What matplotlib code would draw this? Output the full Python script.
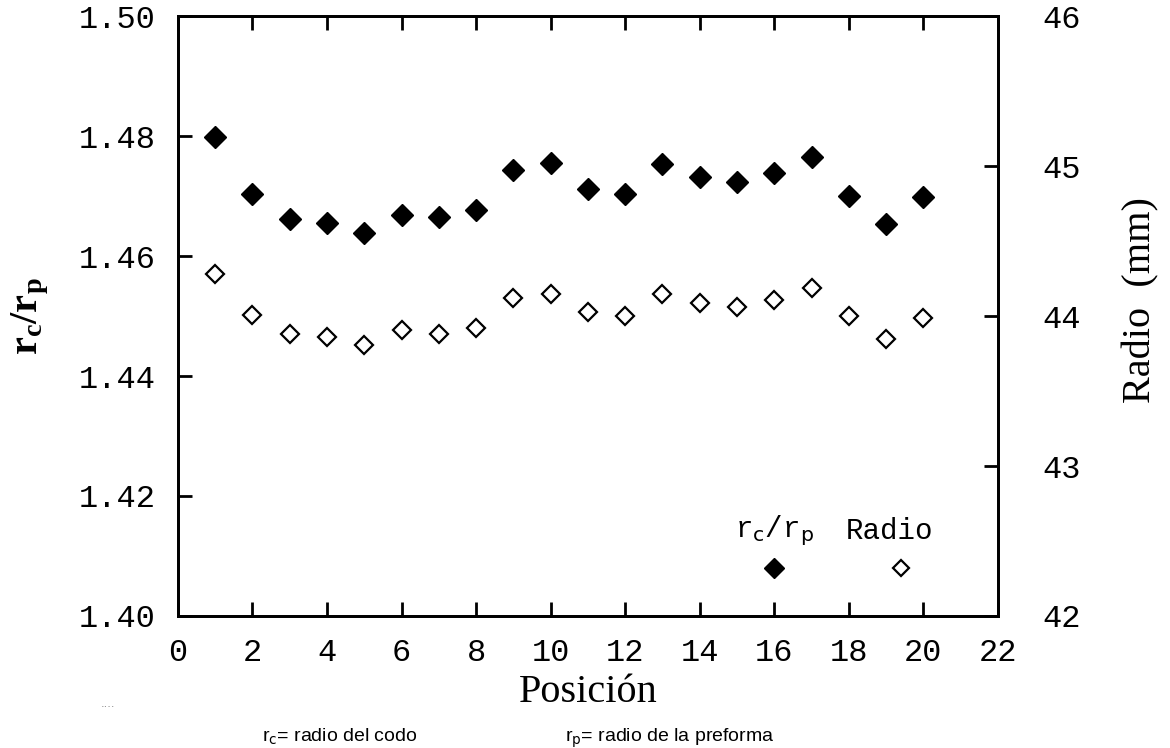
import matplotlib.pyplot as plt

plt.rcParams['mathtext.fontset'] = 'custom'
plt.rcParams['mathtext.rm'] = 'Liberation Serif'
plt.rcParams['mathtext.bf'] = 'Liberation Serif:bold'

# datos
posicion = [1, 2, 3, 4, 5, 6, 7, 8, 9, 10, 11, 12, 13, 14, 15, 16, 17, 18, 19, 20]
rc_rp = [1.4798, 1.4703, 1.4662, 1.4655, 1.4639, 1.4669, 1.4665, 1.4676, 1.4744, 1.4755,
         1.4711, 1.4704, 1.4754, 1.4732, 1.4723, 1.4738, 1.4765, 1.4700, 1.4654, 1.4698]
radio = [44.28, 44.01, 43.88, 43.86, 43.81, 43.91, 43.88, 43.92, 44.12, 44.15,
         44.03, 44.00, 44.15, 44.09, 44.06, 44.11, 44.19, 44.00, 43.85, 43.99]

x_ticks = [0, 2, 4, 6, 8, 10, 12, 14, 16, 18, 20, 22]
y_ticks = [1.40, 1.42, 1.44, 1.46, 1.48, 1.50]
y2_ticks = [42, 43, 44, 45, 46]

mono = 'Liberation Mono'
serif = 'Liberation Serif'

fig = plt.figure(figsize=(11.7, 7.48), dpi=100)
ax = fig.add_axes([0.152, 0.1765, 0.701, 0.802])
ax2 = ax.twinx()

ax.plot(posicion, rc_rp, linestyle='none', marker='D', markersize=11,
        color='black')
ax2.plot(posicion, radio, linestyle='none', marker='D', markersize=9,
         markerfacecolor='white', markeredgecolor='black', markeredgewidth=1.6)

ax.set_xlim(0, 22)
ax.set_ylim(1.40, 1.50)
ax2.set_ylim(42, 46)

ax.set_xticks(x_ticks)
ax.set_xticklabels([str(t) for t in x_ticks], family=mono, fontsize=23)
ax.set_yticks(y_ticks)
ax.set_yticklabels(['%.2f' % t for t in y_ticks], family=mono, fontsize=23)
ax2.set_yticks(y2_ticks)
ax2.set_yticklabels([str(t) for t in y2_ticks], family=mono, fontsize=23)

ax.tick_params(axis='x', direction='in', length=10, width=2, pad=16,
               top=True, labeltop=False)
ax.tick_params(axis='y', direction='in', length=10, width=2, pad=16)
ax2.tick_params(axis='y', direction='in', length=10, width=2, pad=32)

for a in (ax, ax2):
    for s in a.spines.values():
        s.set_linewidth(2)

ax.set_xlabel('Posición', family=serif, fontsize=29, labelpad=4)
ax.set_ylabel(r'$\mathbf{r_c/r_p}$', fontsize=29)
ax.yaxis.set_label_coords(-0.155, 0.5)
ax2.set_ylabel('Radio  (mm)', family=serif, fontsize=29)
ax2.yaxis.set_label_coords(1.152, 0.526)

# leyenda dentro del grafico
ax.text(16.0, 1.4142, r'r$_{\rm c}$/r$_{\rm p}$', family=mono, fontsize=21,
        ha='center', va='center', math_fontfamily='dejavusans')
ax.text(19.1, 1.4142, 'Radio', family=mono, fontsize=21, ha='center', va='center')
ax.plot([16], [1.4080], linestyle='none', marker='D', markersize=10, color='black')
ax2.plot([19.4], [42.32], linestyle='none', marker='D', markersize=8,
         markerfacecolor='white', markeredgecolor='black', markeredgewidth=1.6)

# notas al pie
fig.text(0.224, 0.008, r'r$_{\rm c}$= radio del codo', family='Liberation Sans',
         fontsize=14, ha='left', va='baseline', math_fontfamily='dejavusans')
fig.text(0.483, 0.008, r'r$_{\rm p}$= radio de la preforma', family='Liberation Sans',
         fontsize=14, ha='left', va='baseline', math_fontfamily='dejavusans')
fig.text(0.086, 0.055, '....', fontsize=8, color='gray')

fig.savefig('out.png', dpi=100)
